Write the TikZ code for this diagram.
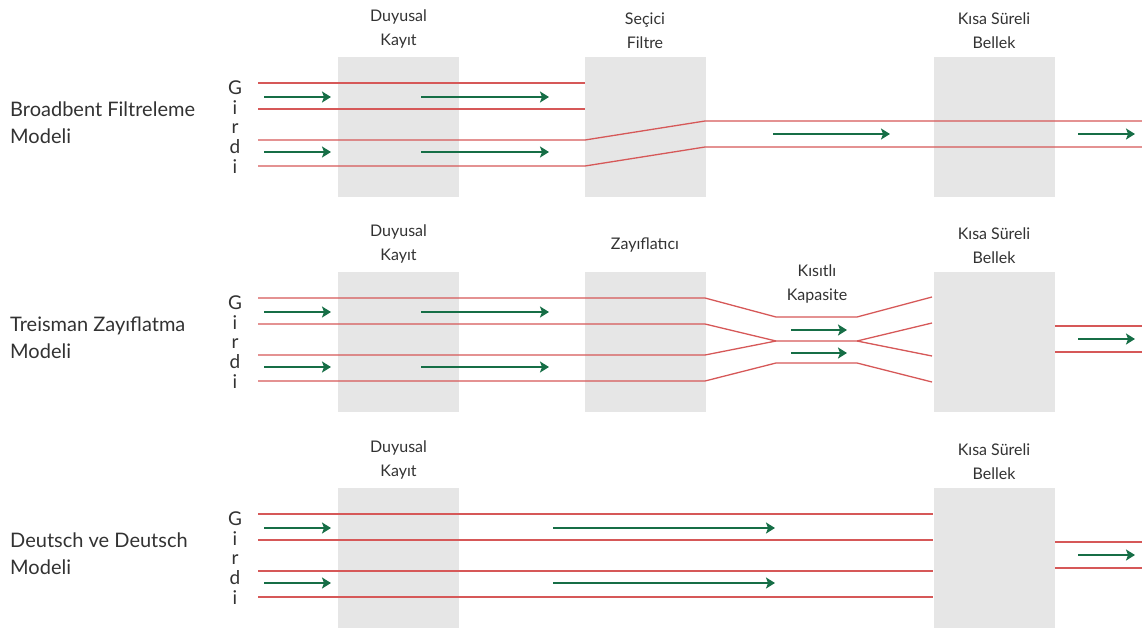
\documentclass[tikz,border=0pt]{standalone}
\usepackage{fontspec}
\setmainfont{Lato}
\usepackage{xcolor}
\usetikzlibrary{arrows.meta,positioning}
\definecolor{boxGray}{RGB}{230,230,230}
\definecolor{lineRed}{RGB}{214,88,88}
\definecolor{flowGreen}{RGB}{22,110,70}
\definecolor{textGray}{RGB}{50,50,50}
\tikzset{
    memBox/.style={
        fill=boxGray,
        draw=none,
        inner sep=0pt,
        minimum width=121pt,
        minimum height=140pt
    },
    channel/.style={
        draw=lineRed,
        line width=1.3pt
    },
    flowArrow/.style={
        -{Stealth[length=9pt,width=11pt,inset=2pt]},
        draw=flowGreen,
        fill=flowGreen,
        line width=1.7pt
    },
    stageLabel/.style={
        align=center,
        text=textGray,
        inner sep=2pt,
        font=\fontsize{16}{24}\selectfont
    },
    modelLabel/.style={
        align=left,
        anchor=west,
        text=textGray,
        inner sep=0pt,
        font=\fontsize{20}{27}\selectfont
    },
    inputLabel/.style={
        align=center,
        text=textGray,
        inner sep=0pt,
        font=\fontsize{19}{19.7}\selectfont
    }
}

\begin{document}
\begin{tikzpicture}[x=1pt,y=-1pt]
    \useasboundingbox (0,0) rectangle (1142,629);

    % Broadbent
    \begin{scope}
        \node[memBox] (kayitA) at (398.5,127) {};
        \node[memBox] (filtreA) at (645,127) {};
        \node[memBox] (bellekA) at (994,127) {};
        \node[stageLabel,above=6pt of kayitA] (kayitAlbl) {Duyusal\\Kayıt};
        \node[stageLabel,above=6pt of filtreA] (filtreAlbl) {Seçici\\Filtre};
        \node[stageLabel,above=6pt of bellekA] (bellekAlbl) {Kısa Süreli\\Bellek};
        \node[modelLabel] (modelA) at (10,122.5) {Broadbent Filtreleme\\Modeli};
        \node[inputLabel] (girdiA) at (235,127) {G\\i\\r\\d\\i};

        \draw[channel] (258,83) -- (585,83);
        \draw[channel] (258,109) -- (585,109);
        \draw[channel] (258,140) -- (585,140) -- (705,121) -- (1142,121);
        \draw[channel] (258,166) -- (585,166) -- (705,147) -- (1142,147);

        \draw[flowArrow] (264,97) -- (331,97);
        \draw[flowArrow] (421,97) -- (549,97);
        \draw[flowArrow] (264,152) -- (331,152);
        \draw[flowArrow] (421,152) -- (549,152);
        \draw[flowArrow] (773,134) -- (890,134);
        \draw[flowArrow] (1078,134) -- (1135,134);
    \end{scope}

    % Treisman
    \begin{scope}[yshift=-215pt]
        \node[memBox] (kayitB) at (398.5,127) {};
        \node[memBox] (zayifB) at (645,127) {};
        \node[memBox] (bellekB) at (994,127) {};
        \node[stageLabel,above=6pt of kayitB] (kayitBlbl) {Duyusal\\Kayıt};
        \node[stageLabel,above=17pt of zayifB] (zayifBlbl) {Zayıflatıcı};
        \node[stageLabel,above=6pt of bellekB] (bellekBlbl) {Kısa Süreli\\Bellek};
        \node[stageLabel] (kapasiteB) at (817,69) {Kısıtlı\\Kapasite};
        \node[modelLabel] (modelB) at (10,122.5) {Treisman Zayıflatma\\Modeli};
        \node[inputLabel] (girdiB) at (235,127) {G\\i\\r\\d\\i};

        \draw[channel] (258,83) -- (705,83) -- (776,102) -- (857,102) -- (932,82);
        \draw[channel] (258,109) -- (705,109) -- (776,126);
        \draw[channel] (258,140) -- (705,140) -- (776,126);
        \draw[channel] (776,126) -- (857,126) -- (932,108);
        \draw[channel] (857,126) -- (932,141);
        \draw[channel] (258,166) -- (705,166) -- (776,148) -- (857,148) -- (932,167);
        \draw[channel] (1055,111) -- (1142,111);
        \draw[channel] (1055,137) -- (1142,137);

        \draw[flowArrow] (264,97) -- (331,97);
        \draw[flowArrow] (421,97) -- (549,97);
        \draw[flowArrow] (264,152) -- (331,152);
        \draw[flowArrow] (421,152) -- (549,152);
        \draw[flowArrow] (791,115) -- (847,115);
        \draw[flowArrow] (791,138) -- (847,138);
        \draw[flowArrow] (1078,124) -- (1135,124);
    \end{scope}

    % Deutsch & Deutsch
    \begin{scope}[yshift=-431pt]
        \node[memBox] (kayitC) at (398.5,127) {};
        \node[memBox] (bellekC) at (994,127) {};
        \node[stageLabel,above=6pt of kayitC] (kayitClbl) {Duyusal\\Kayıt};
        \node[stageLabel,above=6pt of bellekC] (bellekClbl) {Kısa Süreli\\Bellek};
        \node[modelLabel] (modelC) at (10,122.5) {Deutsch ve Deutsch\\Modeli};
        \node[inputLabel] (girdiC) at (235,127) {G\\i\\r\\d\\i};

        \draw[channel] (258,83) -- (933,83);
        \draw[channel] (258,109) -- (933,109);
        \draw[channel] (258,140) -- (933,140);
        \draw[channel] (258,166) -- (933,166);
        \draw[channel] (1055,111) -- (1142,111);
        \draw[channel] (1055,137) -- (1142,137);

        \draw[flowArrow] (264,97) -- (331,97);
        \draw[flowArrow] (553,97) -- (775,97);
        \draw[flowArrow] (264,152) -- (331,152);
        \draw[flowArrow] (553,152) -- (775,152);
        \draw[flowArrow] (1078,124) -- (1135,124);
    \end{scope}
\end{tikzpicture}
\end{document}
